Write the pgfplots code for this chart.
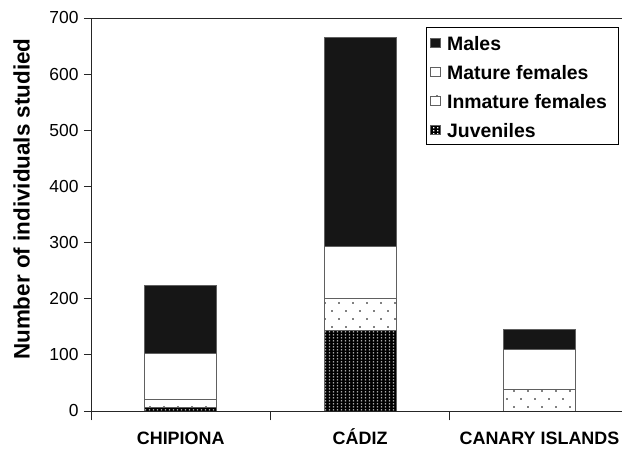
\documentclass[border=0pt]{standalone}
\usepackage{pgfplots}
\pgfplotsset{compat=1.18}
\usepackage{fontspec}
\setmainfont{Liberation Sans}
\usetikzlibrary{patterns,calc}

\pgfdeclarepatternformonly{sparsedots}{\pgfqpoint{-1bp}{-1bp}}{\pgfqpoint{15bp}{17bp}}{\pgfqpoint{14bp}{16bp}}{%
  \pgfpathcircle{\pgfqpoint{3bp}{3bp}}{0.85bp}%
  \pgfpathcircle{\pgfqpoint{10bp}{11bp}}{0.85bp}%
  \pgfusepath{fill}}
\pgfdeclarepatternformonly{whitegrid}{\pgfqpoint{0bp}{0bp}}{\pgfqpoint{4bp}{3bp}}{\pgfqpoint{4bp}{3bp}}{%
  \pgfpathrectangle{\pgfqpoint{1.2bp}{0.8bp}}{\pgfqpoint{1.6bp}{1.4bp}}%
  \pgfusepath{fill}}

\definecolor{malec}{HTML}{161616}
\definecolor{edgec}{HTML}{606060}

\pgfplotstableread{
x juv inm mat mal
0 6   14 83 121
1 143 58 92 372
2 0   39 70 36
}\datatable

\begin{document}
\begin{tikzpicture}
\begin{axis}[
  scale only axis,
  width=531bp, height=393bp,
  xmin=-0.5, xmax=2.46,
  ymin=0, ymax=700,
  ybar stacked,
  bar width=0.4,
  axis x line=bottom, axis y line=left,
  axis line style={-, line width=0.8pt, black!85},
  tick align=outside,
  major tick length=9.5bp,
  tick style={black!85, line width=0.7pt},
  ytick=\empty,
  extra y ticks={0,100,200,300,400,500,600,700},
  extra y tick style={major tick length=7bp},
  xtick={-0.5,0.5,1.5},
  xticklabels={CHIPIONA,C\'ADIZ,CANARY ISLANDS},
  xticklabel style={font=\fontsize{18}{20}\selectfont\bfseries, anchor=base, xshift=89.7bp, yshift=-24bp},
  /pgf/number format/assume math mode=true,
  yticklabel style={font=\fontsize{17.5}{20}\selectfont, xshift=-2bp},
  ylabel={Number of individuals studied},
  ylabel style={font=\fontsize{22.5}{24}\selectfont\bfseries, at={(rel axis cs:0,0.539)}, anchor=south, inner sep=0pt, yshift=61bp},
  reverse legend,
  legend cell align=left,
  legend style={at={(0.631,0.977)}, anchor=north west, draw=black, line width=0.8pt,
    font=\fontsize{19.5}{21}\selectfont\bfseries, inner xsep=4bp, inner ysep=6bp,
    nodes={text height=17bp, text depth=1bp, inner ysep=0pt},
    row sep=11bp, /tikz/every even column/.append style={column sep=0bp}},
  legend image code/.code={\draw[#1, line width=0.5pt] (2bp,-4.5bp) rectangle (12bp,4.5bp); \path (16bp,0bp);},
]
\addplot[fill=black, draw=edgec, line width=0.8pt, postaction={pattern=whitegrid, pattern color=white}] table[x=x,y=juv]{\datatable};
\addplot[fill=white, draw=edgec, line width=0.8pt, postaction={pattern=sparsedots, pattern color=black}] table[x=x,y=inm]{\datatable};
\addplot[fill=white, draw=edgec, line width=0.8pt] table[x=x,y=mat]{\datatable};
\addplot[fill=malec, draw=edgec, line width=0.8pt] table[x=x,y=mal]{\datatable};
\legend{Juveniles, Inmature females\hspace*{5.5bp}, Mature females, Males}
\draw[line width=0.8pt, black!85] (rel axis cs:0,1) -- (rel axis cs:1,1);
\end{axis}
\pgfresetboundingbox
\path ($(current axis.south west)+(-91bp,-39bp)$) rectangle ($(current axis.north east)+(1bp,18bp)$);
\end{tikzpicture}
\end{document}
